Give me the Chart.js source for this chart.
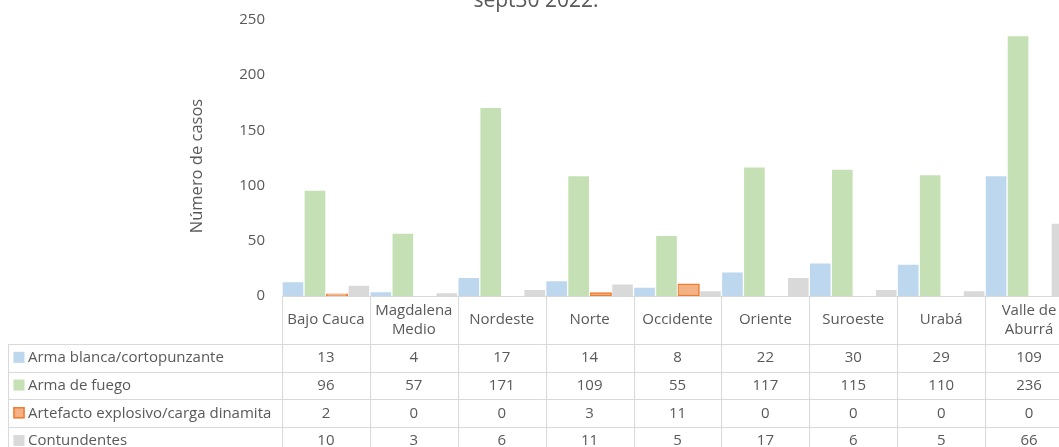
<!DOCTYPE html>
<html>
<head>
<meta charset="utf-8">
<script src="https://cdn.jsdelivr.net/npm/chart.js@4"></script>
<style>
    body { margin: 0; background: #fff; }
    .wrap { position: relative; width: 1059px; height: 447px; overflow: hidden; }
    canvas { position: absolute; left: 0; top: 0; }
</style>
</head>
<body>
<div class="wrap"><canvas id="chart" width="1090" height="447"></canvas></div>
<script>
const titleText = 'sept30 2022.';
const yTitle = 'Número de casos';
const regiones = ['Bajo Cauca', ['Magdalena', 'Medio'], 'Nordeste', 'Norte', 'Occidente', 'Oriente', 'Suroeste', 'Urabá', ['Valle de', 'Aburrá']];
const yTicks = [0, 50, 100, 150, 200, 250];

const serieNombres = ['Arma blanca/cortopunzante', 'Arma de fuego', 'Artefacto explosivo/carga dinamita', 'Contundentes'];
const armaBlanca = [13, 4, 17, 14, 8, 22, 30, 29, 109];
const armaFuego = [96, 57, 171, 109, 55, 117, 115, 110, 236];
const explosivo = [2, 0, 0, 3, 11, 0, 0, 0, 0];
const contundentes = [10, 3, 6, 11, 5, 17, 6, 5, 66];

const FONT = "'Open Sans', sans-serif";
const TEXT = '#595959';
const LINE = '#D9D9D9';

// tabla de datos debajo del eje (como en Excel)
const dataTable = {
    id: 'dataTable',
    afterDraw(chart) {
        const { ctx, chartArea } = chart;
        const x = chart.scales.x;
        const colW = x.getPixelForValue(1) - x.getPixelForValue(0);
        const top = chartArea.bottom;
        const headBottom = 344;
        const rowH = 27.7;
        const tableLeft = 8;
        const n = regiones.length;
        const right = x.getPixelForValue(n - 1) + colW / 2;
        const bottom = headBottom + rowH * serieNombres.length;

        ctx.save();
        ctx.strokeStyle = LINE;
        ctx.lineWidth = 1;
        ctx.beginPath();
        for (let i = 0; i <= n; i++) {
            const px = Math.round(x.getPixelForValue(i) - colW / 2) + 0.5;
            ctx.moveTo(px, top);
            ctx.lineTo(px, bottom);
        }
        ctx.moveTo(tableLeft + 0.5, headBottom);
        ctx.lineTo(tableLeft + 0.5, bottom);
        for (let r = 0; r <= serieNombres.length; r++) {
            const py = Math.round(headBottom + r * rowH) + 0.5;
            ctx.moveTo(tableLeft, py);
            ctx.lineTo(right, py);
        }
        ctx.stroke();

        ctx.fillStyle = TEXT;
        ctx.font = '15px ' + FONT;
        ctx.textAlign = 'center';
        ctx.textBaseline = 'middle';
        regiones.forEach((lab, i) => {
            const cx = x.getPixelForValue(i);
            const lines = Array.isArray(lab) ? lab : [lab];
            const mid = (top + headBottom) / 2;
            lines.forEach((l, k) => {
                ctx.fillText(l, cx, mid + (k - (lines.length - 1) / 2) * 19);
            });
        });

        chart.data.datasets.forEach((ds, r) => {
            const cy = headBottom + rowH * (r + 0.5);
            ctx.fillStyle = ds.backgroundColor;
            ctx.fillRect(13.5, cy - 6, 11, 11);
            if (ds.borderColor !== '#ffffff') {
                ctx.strokeStyle = ds.borderColor;
                ctx.lineWidth = 1.5;
                ctx.strokeRect(14, cy - 5.5, 10, 10);
            }
            ctx.fillStyle = TEXT;
            ctx.textAlign = 'left';
            ctx.fillText(ds.label, 28, cy);
            ctx.textAlign = 'center';
            ds.data.forEach((v, i) => {
                ctx.fillText(String(v), x.getPixelForValue(i), cy);
            });
        });

        // titulo (cortado arriba) y titulo del eje y
        ctx.font = '21px ' + FONT;
        ctx.textBaseline = 'alphabetic';
        ctx.fillText(titleText, 536, 7);

        ctx.translate(197, 166);
        ctx.rotate(-Math.PI / 2);
        ctx.font = '16.5px ' + FONT;
        ctx.textBaseline = 'middle';
        ctx.fillText(yTitle, 0, 0);
        ctx.restore();
    }
};

const ctx = document.getElementById('chart').getContext('2d');
new Chart(ctx, {
    type: 'bar',
    data: {
        labels: regiones,
        datasets: [
            { label: serieNombres[0], data: armaBlanca, backgroundColor: '#BDD7EE', borderColor: '#ffffff', borderWidth: 1 },
            { label: serieNombres[1], data: armaFuego, backgroundColor: '#C5E0B4', borderColor: '#ffffff', borderWidth: 1 },
            { label: serieNombres[2], data: explosivo, backgroundColor: '#F4B183', borderColor: '#ED7D31', borderWidth: 1.5, borderSkipped: false },
            { label: serieNombres[3], data: contundentes, backgroundColor: '#D9D9D9', borderColor: '#ffffff', borderWidth: 1 }
        ]
    },
    options: {
        responsive: false,
        animation: false,
        categoryPercentage: 1,
        barPercentage: 1,
        layout: { padding: { left: 0, top: 20, right: 17, bottom: 151 } },
        plugins: { legend: { display: false }, tooltip: { enabled: false } },
        scales: {
            x: {
                ticks: { display: false },
                grid: { display: false },
                border: { color: LINE, width: 1 },
                afterFit: s => { s.height = 0; s.paddingLeft = 0; s.paddingRight = 0; }
            },
            y: {
                min: 0,
                max: 250,
                afterBuildTicks: s => { s.ticks = yTicks.map(v => ({ value: v })); },
                ticks: { color: TEXT, font: { family: FONT, size: 15 }, padding: 17 },
                grid: { display: false, drawTicks: false },
                border: { display: false },
                afterFit: s => { s.width = 282; s.paddingTop = 0; s.paddingBottom = 0; }
            }
        }
    },
    plugins: [dataTable]
});
</script>
</body>
</html>
